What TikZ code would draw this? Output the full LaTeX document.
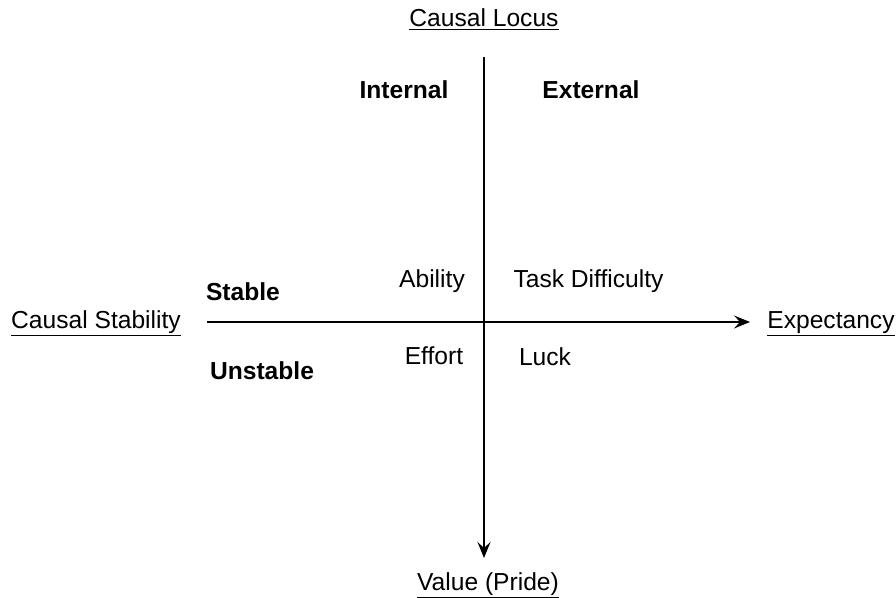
\documentclass[tikz,border=0pt]{standalone}
\usepackage{fontspec}
\setmainfont{Liberation Sans}
\usetikzlibrary{arrows.meta,positioning}
\tikzset{lbl/.style={anchor=base,font=\fontsize{14}{16}\selectfont},
  dim/.style={lbl,font=\fontsize{14}{16}\selectfont\bfseries},
  axis/.style={-{Stealth[length=3.2mm,width=2.6mm,inset=1.2mm]},line width=0.9pt}}

\begin{document}
\begin{tikzpicture}
\useasboundingbox (0,0) rectangle (17.92,11.94);
\coordinate (top) at (9.68,10.80);
\coordinate (bottom) at (9.68,0.78);
\coordinate (left) at (4.14,5.50);
\coordinate (right) at (15.0,5.50);
\draw[axis] (top) -- (bottom);
\draw[axis] (left) -- (right);
\node[lbl] (locus) at (9.68,11.40) {\underline{Causal Locus}};
\node[lbl] (value) at (9.76,0.14) {\underline{Value (Pride)}};
\node[lbl] (stability) at (1.92,5.38) {\underline{Causal Stability}};
\node[lbl] (expect) at (16.62,5.38) {\underline{Expectancy}};
\node[dim] (internal) at (8.08,9.96) {Internal};
\node[dim] (external) at (11.82,9.96) {External};
\node[dim] (stable) at (4.86,5.94) {Stable};
\node[dim] (unstable) at (5.24,4.36) {Unstable};
\node[lbl] (ability) at (8.64,6.20) {Ability};
\node[lbl] (task) at (11.77,6.20) {Task Difficulty};
\node[lbl] (effort) at (8.68,4.66) {Effort};
\node[lbl] (luck) at (10.90,4.64) {Luck};
\end{tikzpicture}
\end{document}
